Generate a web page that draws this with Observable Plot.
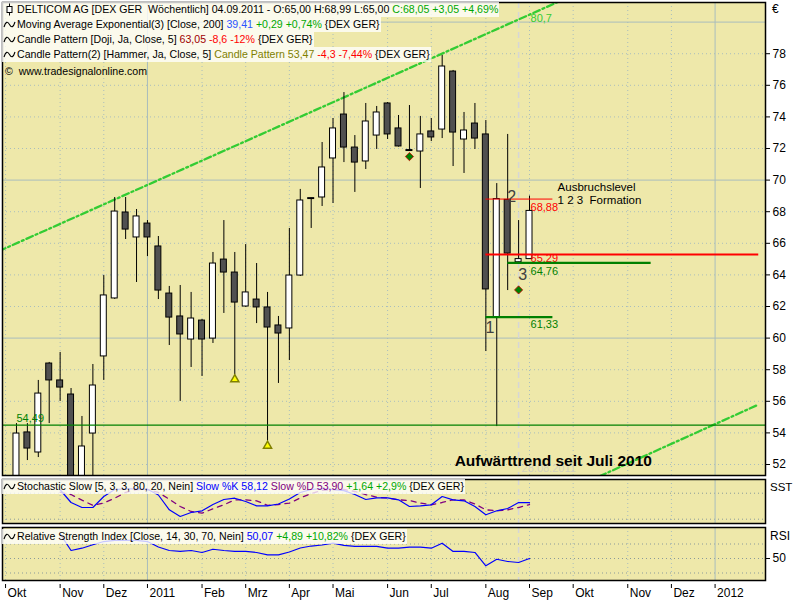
<!DOCTYPE html>
<html><head><meta charset="utf-8">
<script src="https://cdn.jsdelivr.net/npm/d3@7"></script>
<script src="https://cdn.jsdelivr.net/npm/@observablehq/plot@0.6"></script>
<style>
html,body{margin:0;padding:0;background:#fff;}
#wrap{position:relative;width:800px;height:600px;overflow:hidden;background:#fff;font-family:"Liberation Sans",Arial,Helvetica,sans-serif;color:#000;}
.pane{position:absolute;left:0;}
.pane svg{display:block;}
.hdr{position:absolute;left:2px;height:15px;line-height:15px;font-size:10.6px;white-space:pre;background:rgba(255,255,255,0.78);padding-right:1px;}
.hdr svg{display:inline-block;vertical-align:top;margin:0 1px 0 1px;}
.lbl{position:absolute;font-size:12px;white-space:pre;line-height:14px;}
</style></head>
<body><div id="wrap"></div>
<script>
// ---------------- DATA ----------------
const weekDates = ["2010-10-10","2010-10-17","2010-10-24","2010-10-31","2010-11-07","2010-11-14","2010-11-21","2010-11-28",
 "2010-12-05","2010-12-12","2010-12-19","2010-12-26","2011-01-02","2011-01-09","2011-01-16","2011-01-23","2011-01-30",
 "2011-02-06","2011-02-13","2011-02-20","2011-02-27","2011-03-06","2011-03-13","2011-03-20","2011-03-27","2011-04-03",
 "2011-04-10","2011-04-17","2011-04-24","2011-05-01","2011-05-08","2011-05-15","2011-05-22","2011-05-29","2011-06-05",
 "2011-06-12","2011-06-19","2011-06-26","2011-07-03","2011-07-10","2011-07-17","2011-07-24","2011-07-31","2011-08-07",
 "2011-08-14","2011-08-21","2011-08-28","2011-09-04"];
const opens  = [50.8,54.03,52.76,58.39,57.32,56.43,50.9,53.96,58.84,62.51,67.95,66.37,67.25,65.80,62.82,61.37,59.91,61.11,59.97,64.97,64.15,62.00,62.44,61.94,60.80,60.61,63.96,68.80,68.90,71.37,74.15,72.06,71.18,72.82,74.85,73.27,71.90,71.81,73.08,73.20,76.87,72.57,73.58,72.89,61.33,68.75,64.80,65.00];
const highs  = [54.59,54.59,57.32,58.46,59.09,56.81,55.04,58.33,63.96,68.90,68.90,68.14,67.44,66.43,63.27,63.33,62.89,61.18,65.42,67.44,65.42,65.92,64.72,62.89,61.37,66.94,69.41,68.86,72.38,73.90,75.54,72.82,74.85,74.66,74.91,74.09,74.72,74.03,73.90,77.89,76.94,74.28,74.85,73.77,69.78,72.89,67.44,68.99];
const lows   = [50.4,52.25,52.44,54.59,55.99,50.5,50.5,51.0,57.32,62.45,66.24,63.52,65.16,62.44,59.53,55.99,58.14,57.57,59.66,61.56,57.68,61.95,60.92,53.47,57.13,58.58,63.90,66.94,68.33,68.52,71.11,69.22,70.67,71.94,72.57,72.09,71.84,69.47,72.44,72.63,70.86,70.42,71.94,59.15,54.40,63.01,64.76,65.00];
const closes = [53.96,53.01,56.49,57.32,56.87,51.0,53.14,57.00,62.70,68.01,66.87,67.70,66.37,63.01,61.30,60.23,61.24,59.91,64.72,64.15,62.25,62.89,61.94,60.67,60.29,63.96,68.71,68.86,70.80,73.27,72.06,71.11,73.71,74.28,72.89,72.13,71.84,72.89,72.70,77.19,73.01,73.14,72.63,63.08,68.80,65.35,65.00,68.05];

// indicators from 2010-11-07 on
const indicatorStart = 4;
const stochK = [88,58.6,47.0,47.0,72.4,88.6,90,90,89,75.9,41.7,26.2,35.5,39.4,53.9,65.5,68.5,60.9,50.9,50.9,55.1,66.6,81.7,88.6,90.9,88.6,86,77,65.5,69.4,69.4,64.8,49.3,50.9,53.3,72.4,64.8,62.5,49.3,30.2,39.4,44.7,58.6,58.12];
const stochD = [82,77,64,52,57.4,68.5,81.7,88.6,88.6,81.7,66,49.3,37.8,33.9,44,53.3,64.8,64.8,62.5,52,54,57,69,79.4,86.3,88.6,88.6,84,77,70.8,69,64.8,63.2,57.4,53.3,58.6,64.8,64.8,55.1,41.7,39.4,41.7,47,53.90];
const rsiValues = [84,61,64.2,68.9,73.4,75,75,75,73.4,65.9,61,59.7,61,58.3,62.8,61,59.7,59.7,58.3,55.1,55.1,59,64.5,67.2,68.6,71.1,68,66.6,66.6,66.6,64.2,64.2,65.6,65.6,64.2,71.1,59.7,59.7,58.3,39.9,49,45.9,44.5,50.07];

// candle pattern markers
const hammerDates = ["2011-02-27","2011-03-20"];
const hammerValues = [57.68,53.47];
const dojiDates = ["2011-06-19","2011-08-28"];
const dojiValues = [71.49,63.05];

// trend channel (Aufwärttrend seit Juli 2010)
const upperTrendDates = ["2010-09-20","2011-10-01"];
const upperTrendValues = [65.12,81.66];
const lowerTrendDates = ["2011-10-10","2012-01-29"];
const lowerTrendValues = [50.86,55.80];

// 1-2-3 formation levels
const levelValues = [68.80,65.29,64.76,61.33];
const levelLabels = ["68,88","65,29","64,76","61,33"];
const levelStarts = ["2011-08-07","2011-08-07","2011-08-21","2011-08-07"];
const levelEnds   = ["2011-09-19","2012-01-29","2011-11-21","2011-09-19"];
const supportValue = 54.49, supportLabel = "54,49";
const pointLabels = ["1","2","3"];
const pointDates = ["2011-08-07","2011-08-21","2011-08-28"];
const pointValues = [61.33,68.80,64.76];
const cursorDate = "2011-08-28";

// axes
const priceTicks = [52,54,56,58,60,62,64,66,68,70,72,74,76,78];
const priceGridSolid = [60,70,80];
const priceGridDotted = [52,54,56,58,62,64,66,68,72,74,76,78];
const monthTickDates = ["2010-10-03","2010-11-07","2010-12-05","2011-01-02","2011-02-06","2011-03-06","2011-04-03","2011-05-01",
 "2011-06-05","2011-07-03","2011-08-07","2011-09-04","2011-10-02","2011-11-06","2011-12-04","2012-01-01"];
const monthTickLabels = ["Okt","Nov","Dez","2011","Feb","Mrz","Apr","Mai","Jun","Jul","Aug","Sep","Okt","Nov","Dez","2012"];
const yearTickLabels = ["2011","2012"];
const stochLevels = [20,80];
const rsiLevels = [30,50,70];

// ---------------- BUILD ----------------
const D = s => new Date(s + "T00:00:00Z");
const candles = weekDates.map((d,i) => ({date:D(d), open:opens[i], high:highs[i], low:lows[i], close:closes[i]}));
const ind = stochK.map((k,i) => ({date:D(weekDates[i+indicatorStart]), k, d:stochD[i], rsi:rsiValues[i]}));
const months = monthTickDates.map(D);
const monthLabel = new Map(months.map((m,i)=>[+m, monthTickLabels[i]]));
const yearMonths = months.filter((m,i)=>yearTickLabels.includes(monthTickLabels[i]));
const otherMonths = months.filter((m,i)=>!yearTickLabels.includes(monthTickLabels[i]));
const xDomain = [new Date("2010-10-01T01:00:00Z"), new Date("2012-02-02T08:00:00Z")];
const FONT = '"Liberation Sans", Arial, Helvetica, sans-serif';
const GOLD = "#EEE8AA", GRID = "#a9bdbd", DOTS = "1,3", TREND = "#33cc33", DKGREEN = "#008000";
const cursor = D(cursorDate);
const common = {width:800, marginLeft:2, marginRight:35,
  x:{type:"utc", domain:xDomain, axis:null},
  style:{background:"#fff", fontFamily:FONT, fontSize:"11px", color:"#000", overflow:"visible"}};
const gridX = [
  Plot.ruleX(otherMonths, {stroke:GRID, strokeDasharray:DOTS}),
  Plot.ruleX(yearMonths, {stroke:GRID}),
  Plot.ruleX([cursor], {stroke:"#d6d6d6", strokeWidth:1.5, strokeDasharray:"6,4"})
];

const trendU = upperTrendDates.map((d,i)=>({date:D(d), v:upperTrendValues[i]}));
const trendL = lowerTrendDates.map((d,i)=>({date:D(d), v:lowerTrendValues[i]}));
const levels = levelValues.map((v,i)=>({v, label:levelLabels[i], start:D(levelStarts[i]), end:D(levelEnds[i])}));
const points = pointLabels.map((t,i)=>({t, date:D(pointDates[i]), v:pointValues[i]}));
const lastDate = candles[candles.length-1].date;
const pointStyle = {x:"date", y:"v", text:"t", dx:4, fill:"#404040", fontSize:16};

const mainPlot = Plot.plot({...common, height:477, marginTop:2, marginBottom:2,
  y:{domain:[51.304,81.241], axis:null},
  marks:[
    Plot.frame({fill:GOLD, stroke:null}),
    Plot.ruleY(priceGridDotted, {stroke:GRID, strokeDasharray:DOTS}),
    Plot.ruleY(priceGridSolid, {stroke:GRID}),
    ...gridX,
    Plot.text(["28.08.2011"], {x:cursor, y:51.75, dx:3, textAnchor:"start", fill:"#d2d0c0", fontSize:11}),
    Plot.line(trendU, {x:"date", y:"v", stroke:TREND, strokeWidth:2.3, strokeDasharray:"7,3,2,3", clip:true}),
    Plot.line(trendL, {x:"date", y:"v", stroke:TREND, strokeWidth:2.3, strokeDasharray:"7,3,2,3", clip:true}),
    Plot.ruleX(candles, {x:"date", y1:"low", y2:"high", stroke:"#000", clip:true}),
    Plot.rect(candles, {x1:d=>d3.utcHour.offset(d.date,-46), x2:d=>d3.utcHour.offset(d.date,46), y1:"open", y2:"close",
      fill:d=>d.close>=d.open?"#ffffff":"#505050", stroke:"#000", clip:true}),
    Plot.ruleY([supportValue], {stroke:DKGREEN, strokeWidth:1.2}),
    Plot.text([supportLabel], {x:candles[0].date, y:supportValue, dy:-7, textAnchor:"start", fill:DKGREEN, fontSize:11}),
    Plot.text([levels[0]], {x:lastDate, y:"v", text:"label", dx:1, dy:8, textAnchor:"start", fill:"#ff0000", fontSize:11}),
    Plot.text([levels[1]], {x:lastDate, y:"v", text:"label", dx:1, dy:4, textAnchor:"start", fill:"#ff0000", fontSize:11}),
    Plot.ruleY([levels[0]], {x1:"start", x2:"end", y:"v", stroke:"#ff0000", strokeWidth:1}),
    Plot.ruleY([levels[1]], {x1:"start", x2:"end", y:"v", stroke:"#ff0000", strokeWidth:2.2}),
    Plot.ruleY([levels[2]], {x1:"start", x2:"end", y:"v", stroke:DKGREEN, strokeWidth:2.2}),
    Plot.ruleY([levels[3]], {x1:"start", x2:"end", y:"v", stroke:DKGREEN, strokeWidth:2.2}),
    Plot.text([levels[2]], {x:lastDate, y:"v", text:"label", dx:1, dy:8.5, textAnchor:"start", fill:DKGREEN, fontSize:11}),
    Plot.text([levels[3]], {x:lastDate, y:"v", text:"label", dx:1, dy:7, textAnchor:"start", fill:DKGREEN, fontSize:11}),
    Plot.dot(hammerDates.map((d,i)=>({date:D(d), v:hammerValues[i]})), {x:"date", y:"v", symbol:"triangle", r:3, dy:4.6, fill:"#ffff00", stroke:"#808000"}),
    Plot.dot(dojiDates.map((d,i)=>({date:D(d), v:dojiValues[i]})), {x:"date", y:"v", symbol:"diamond2", r:3.7, fill:DKGREEN, stroke:"#d00000", strokeWidth:0.8}),
    Plot.text([points[0]], {...pointStyle, dy:11}),
    Plot.text([points[1]], {...pointStyle, dy:-2.5}),
    Plot.text([points[2]], {...pointStyle, dy:11.5}),
    Plot.text(["Ausbruchslevel\n1 2 3\u00a0\u00a0Formation"], {x:D("2011-09-22"), y:69.15, textAnchor:"start", fontSize:11.5, lineHeight:1.15, fill:"#000"}),
    Plot.text(["Aufwärttrend seit Juli 2010"], {x:D("2011-07-18"), y:52.19, textAnchor:"start", fontSize:15.5, fontWeight:"bold", fill:"#000"}),
    Plot.text(["80,7"], {x:lastDate, y:80.25, dx:1, textAnchor:"start", fill:TREND, fontSize:11}),
    Plot.axisY(priceTicks, {anchor:"right", tickSize:4, tickPadding:3, fontSize:12, label:null}),
    Plot.frame({stroke:"#000", strokeWidth:1.5})
  ]});

const stochPlot = Plot.plot({...common, height:48, marginTop:2, marginBottom:2,
  y:{domain:[10.07,111.7], axis:null},
  marks:[
    Plot.frame({fill:GOLD, stroke:null}),
    Plot.ruleY(stochLevels, {stroke:"#8a9a9a", strokeDasharray:DOTS}),
    ...gridX,
    Plot.line(ind, {x:"date", y:"d", stroke:"#800080", strokeWidth:1.3, strokeDasharray:"5,5", clip:true}),
    Plot.line(ind, {x:"date", y:"k", stroke:"#0000ff", strokeWidth:1.2, clip:true}),
    Plot.frame({stroke:"#000", strokeWidth:1.5})
  ]});

const rsiPlot = Plot.plot({...common, height:75, marginTop:2, marginBottom:20,
  y:{domain:[19.66,92.76], axis:null},
  marks:[
    Plot.frame({fill:GOLD, stroke:null}),
    Plot.ruleY(rsiLevels, {stroke:"#8a9a9a", strokeDasharray:DOTS}),
    ...gridX,
    Plot.line(ind, {x:"date", y:"rsi", stroke:"#0000ff", strokeWidth:1.2, clip:true}),
    Plot.axisY([50], {anchor:"right", tickSize:4, tickPadding:3, fontSize:12, label:null}),
    Plot.axisX(months, {tickSize:4, dy:4, tickFormat:()=>"", label:null}),
    Plot.axisX(months, {tickSize:0, tickPadding:2, dy:6, dx:2, textAnchor:"start", fontSize:12, tickFormat:d=>monthLabel.get(+d), label:null}),
    Plot.frame({stroke:"#000", strokeWidth:1.5})
  ]});

const wrap = document.getElementById("wrap");
function place(node, top){ const d=document.createElement("div"); d.className="pane"; d.style.top=top+"px"; d.appendChild(node); wrap.appendChild(d); }
place(mainPlot, 0); place(stochPlot, 477); place(rsiPlot, 525);

// ---------------- LEGENDS / HEADERS ----------------
const fmt = v => v.toFixed(2).replace(".", ",");
const last = candles[candles.length-1], prev = candles[candles.length-2];
const chg = last.close - prev.close;
const pct = (chg / prev.close * 100);
const wave = '<svg width="13" height="15" viewBox="0 0 13 15"><path d="M1 10 Q3.5 2 6.5 7.5 T12 5" fill="none" stroke="#000" stroke-width="1.1"/></svg>';
const candleIcon = '<svg width="13" height="15" viewBox="0 0 13 15"><line x1="6.5" y1="1.5" x2="6.5" y2="13.5" stroke="#000"/><rect x="4" y="4.5" width="5" height="6" fill="#fff" stroke="#000"/></svg>';
const G = "#00a800";
const headers = [
  {top:2, html:`${candleIcon}DELTICOM AG [DEX GER  Wöchentlich] 04.09.2011 - O:${fmt(last.open)} H:${fmt(last.high)} L:${fmt(last.low)} <span style="color:${G}">C:${fmt(last.close)} +${fmt(chg)} +${fmt(pct)}%</span>`},
  {top:17, html:`${wave}Moving Average Exponential(3) [Close, 200] <span style="color:#2a55ff">39,41</span> <span style="color:${G}">+0,29 +0,74%</span> {DEX GER}`},
  {top:32, html:`${wave}Candle Pattern [Doji, Ja, Close, 5] <span style="color:#a00000">${fmt(dojiValues[1])}</span> <span style="color:#ff0000">-8,6 -12%</span> {DEX GER}`},
  {top:47, html:`${wave}Candle Pattern(2) [Hammer, Ja, Close, 5] <span style="color:#808000">Candle Pattern ${fmt(hammerValues[1])}</span> <span style="color:#ff0000">-4,3 -7,44%</span> {DEX GER}`},
  {top:479, html:`${wave}Stochastic Slow [5, 3, 3, 80, 20, Nein] <span style="color:#0000ff">Slow %K ${fmt(stochK[stochK.length-1])}</span> <span style="color:#800080">Slow %D ${fmt(stochD[stochD.length-1])}</span> <span style="color:${G}">+1,64 +2,9%</span> {DEX GER}`},
  {top:529, html:`${wave}Relative Strength Index [Close, 14, 30, 70, Nein] <span style="color:#0000ff">${fmt(rsiValues[rsiValues.length-1])}</span> <span style="color:${G}">+4,89 +10,82%</span> {DEX GER}`}
];
for (const h of headers){ const d=document.createElement("div"); d.className="hdr"; d.style.top=h.top+"px"; d.innerHTML=h.html; wrap.appendChild(d); }
const labels = [
  {left:5, top:64, text:"©  www.tradesignalonline.com", size:10.6},
  {left:772, top:2, text:"€", size:12},
  {left:770, top:480, text:"SST", size:11.5},
  {left:770, top:529, text:"RSI", size:12}
];
for (const l of labels){ const d=document.createElement("div"); d.className="lbl"; d.style.left=l.left+"px"; d.style.top=l.top+"px"; d.style.fontSize=l.size+"px"; d.textContent=l.text; wrap.appendChild(d); }
</script></body></html>
